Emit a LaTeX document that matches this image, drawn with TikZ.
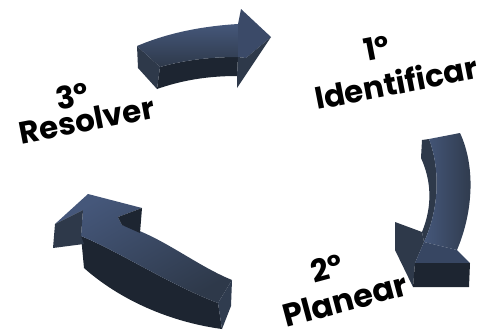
\documentclass[tikz,border=0pt]{standalone}
\usepackage{fontspec}
\setmainfont{Poppins}[UprightFont=* Bold]
\begin{document}
\begin{tikzpicture}[x=1pt,y=-1pt,
  lightface/.style={top color=arrowlight,bottom color=arrowmid,draw=none},
  darkface/.style={fill=arrowdark,draw=none},
  midface/.style={fill=arrowmid,draw=none},
  lbl/.style={font=\fontsize{31}{34}\selectfont,text=black,inner sep=0pt}]
\definecolor{arrowlight}{HTML}{45577A}
\definecolor{arrowmid}{HTML}{2E394A}
\definecolor{arrowdark}{HTML}{1D2531}
\useasboundingbox (0,0) rectangle (483,333);
% ---------- top arrow ----------
\fill[darkface] (160,67) .. controls (185,60) and (210,57) .. (238,57) -- (237,76) .. controls (205,76) and (180,81) .. (157,89) -- cycle;
\fill[midface] (137,46) -- (160,67) -- (157,89) -- (138,68) -- cycle;
\shade[lightface,shading angle=0] (137,46) .. controls (170,32) and (205,26) .. (238,24) -- (238,57) .. controls (210,57) and (185,60) .. (160,67) -- cycle;
\fill[arrowlight!85!black] (238,24) -- (241,9) -- (271,37) -- (246,58) -- (238,57) -- cycle;
\fill[midface] (246,58) -- (271,37) -- (237,88) -- (237,76) -- (238,57) -- cycle;
% ---------- right arrow ----------
\fill[midface] (422,140) -- (429,139) .. controls (439,165) and (441,205) .. (424,242) -- (422,232) .. controls (433,205) and (431,180) .. (421,158) -- cycle;
\shade[lightface,shading angle=90] (429,139) -- (460,133) .. controls (475,165) and (474,210) .. (457,250) -- (424,242) .. controls (441,205) and (439,165) .. (429,139) -- cycle;
\fill[midface] (395,222) -- (422,232) -- (424,242) -- (415,263) -- (413,287) -- (395,250) -- cycle;
\fill[arrowlight!80!black] (424,242) -- (457,250) -- (470,263) -- (415,263) -- cycle;
\fill[darkface] (415,263) -- (470,263) -- (469,287) -- (413,287) -- cycle;
% ---------- bottom-left arrow ----------
\fill[darkface] (81,236) .. controls (120,252) and (170,285) .. (218,303) -- (222,329) .. controls (170,322) and (120,300) .. (84,268) -- cycle;
\shade[lightface,shading angle=30] (88,194) -- (142,208) -- (118,217) -- (122,225) .. controls (160,235) and (195,265) .. (232,280) -- (218,303) .. controls (170,285) and (120,252) .. (81,236) -- (83,210) -- (55,224) -- cycle;
\fill[arrowmid!90!arrowlight] (232,280) -- (231,306) -- (222,329) -- (218,303) -- cycle;
\fill[darkface] (118,217) -- (142,208) -- (140,233) -- (122,225) -- cycle;
\fill[midface] (55,224) -- (83,210) -- (81,236) -- (84,244) -- (53,248) -- cycle;
% ---------- labels ----------
\node[lbl,rotate=11] (n1) at (377,48) {1º};
\node[lbl,rotate=11] (l1) at (396,82) {Identificar};
\node[lbl,rotate=15] (n2) at (327,268) {2º};
\node[lbl,rotate=15,font=\fontsize{32}{35}\selectfont] (l2) at (345,300) {Planear};
\node[lbl,rotate=11] (n3) at (72,96) {3º};
\node[lbl,rotate=11] (l3) at (87,120) {Resolver};
\end{tikzpicture}
\end{document}
